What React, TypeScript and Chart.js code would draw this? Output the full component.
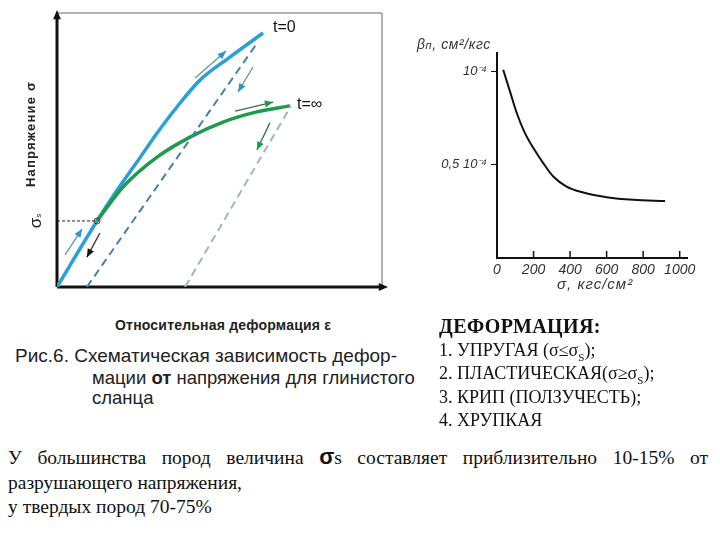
import React, { useEffect, useRef } from "react";
import { Chart, registerables } from "chart.js";
Chart.register(...registerables);

// ---- Left schematic chart (arbitrary units 0..100) ----
const loadT0X = [0, 12.3, 18.5, 24.6, 30.8, 36.9, 44.0, 53.2, 63.4];
const loadT0Y = [0, 24.1, 35.4, 45.6, 56.2, 65.7, 75.5, 83.9, 92.7];
const loadTInfX = [12.3, 20.3, 30.8, 40.9, 51.1, 61.5, 71.7];
const loadTInfY = [24.1, 36.5, 47.4, 54.7, 60.2, 63.9, 66.1];
const unloadT0X = [9.2, 61.8];
const unloadT0Y = [0, 89.4];
const unloadTInfX = [39.4, 72.0];
const unloadTInfY = [0, 66.1];
const sigmaSX = 12.3;
const sigmaSY = 24.1;
const arrowStartX = [2.5, 13.2, 42.5, 60.3, 54.8, 65.5];
const arrowStartY = [11.7, 19.7, 76.3, 80.3, 64.2, 59.9];
const arrowEndX = [7.7, 9.2, 52.0, 55.7, 66.5, 61.5];
const arrowEndY = [21.2, 10.9, 86.1, 71.2, 67.5, 50.0];
const arrowKind = ["blue", "black", "blue", "blue", "green", "green"];

// ---- Right chart ----
const stressValues = [34, 71, 108, 153, 199, 253, 308, 381, 472, 600, 746, 920];
const compressValues = [1.01, 0.894, 0.778, 0.67, 0.59, 0.509, 0.437, 0.383, 0.351, 0.326, 0.312, 0.306];
const xTickValues = [0, 200, 400, 600, 800, 1000];
const xTickLabels = ["0", "200", "400", "600", "800", "1000"];
const yTickValues = [0.5, 1];
const yTickLabels = ["0,5 10⁻⁴", "10⁻⁴"];

const zip = (xs: number[], ys: number[]) => xs.map((x, i) => ({ x, y: ys[i] }));

function arrowHead(ctx: CanvasRenderingContext2D, x0: number, y0: number, x1: number, y1: number, size: number, color: string) {
  const a = Math.atan2(y1 - y0, x1 - x0);
  ctx.save();
  ctx.fillStyle = color;
  ctx.beginPath();
  ctx.moveTo(x1, y1);
  ctx.lineTo(x1 - size * Math.cos(a - 0.4), y1 - size * Math.sin(a - 0.4));
  ctx.lineTo(x1 - size * Math.cos(a + 0.4), y1 - size * Math.sin(a + 0.4));
  ctx.closePath();
  ctx.fill();
  ctx.restore();
}

const kindShaft: Record<string, string> = { blue: "#5b9aa0", black: "#3a2a1a", green: "#3d6b52" };
const kindHead: Record<string, string> = { blue: "#2a95cf", black: "#111111", green: "#1e9a4a" };

function LeftChart() {
  const ref = useRef<HTMLCanvasElement>(null);
  useEffect(() => {
    if (!ref.current) return;
    const arrowSets = arrowKind.map((k, i) => ({
      label: "arrow" + i,
      data: [{ x: arrowStartX[i], y: arrowStartY[i] }, { x: arrowEndX[i], y: arrowEndY[i] }],
      borderColor: kindShaft[k],
      borderWidth: 1.3,
      pointRadius: 0,
      showLine: true,
      clip: false as any,
      arrowColor: kindHead[k],
    }));
    const frame = {
      id: "frame",
      beforeDatasetsDraw(chart: any) {
        const { ctx, chartArea: a } = chart;
        ctx.save();
        ctx.strokeStyle = "#666";
        ctx.lineWidth = 1;
        ctx.beginPath();
        ctx.moveTo(a.left, a.top);
        ctx.lineTo(a.right, a.top);
        ctx.lineTo(a.right, a.bottom);
        ctx.stroke();
        ctx.strokeStyle = "#111";
        ctx.lineWidth = 3;
        ctx.beginPath();
        ctx.moveTo(a.left, a.bottom);
        ctx.lineTo(a.left, a.top + 2);
        ctx.moveTo(a.left, a.bottom);
        ctx.lineTo(a.right + 2, a.bottom);
        ctx.stroke();
        ctx.restore();
        arrowHead(ctx, a.left, a.bottom, a.left, a.top - 3, 10, "#111");
        arrowHead(ctx, a.left, a.bottom, a.right + 6, a.bottom, 10, "#111");
      },
      afterDatasetsDraw(chart: any) {
        const { ctx } = chart;
        chart.data.datasets.forEach((ds: any, i: number) => {
          if (!ds.arrowColor) return;
          const pts = chart.getDatasetMeta(i).data;
          arrowHead(ctx, pts[0].x, pts[0].y, pts[1].x, pts[1].y, 9, ds.arrowColor);
        });
      },
    };
    const chart = new Chart(ref.current, {
      type: "scatter",
      data: {
        datasets: [
          {
            label: "sigmaS",
            data: [{ x: 0, y: sigmaSY }, { x: sigmaSX, y: sigmaSY }],
            borderColor: "#222",
            borderWidth: 1,
            borderDash: [3, 2],
            showLine: true,
            pointRadius: [0, 3],
            pointBackgroundColor: "rgba(0,0,0,0)",
            pointBorderColor: "#444",
            pointBorderWidth: 1,
          },
          {
            label: "unloadT0",
            data: zip(unloadT0X, unloadT0Y),
            borderColor: "#4582a4",
            borderWidth: 2,
            borderDash: [8, 5],
            showLine: true,
            pointRadius: 0,
          },
          {
            label: "unloadTInf",
            data: zip(unloadTInfX, unloadTInfY),
            borderColor: "#a6b6b6",
            borderWidth: 2,
            borderDash: [8, 5],
            showLine: true,
            pointRadius: 0,
          },
          {
            label: "t=∞",
            data: zip(loadTInfX, loadTInfY),
            borderColor: "#1f9a4a",
            borderWidth: 3.5,
            showLine: true,
            pointRadius: 0,
            cubicInterpolationMode: "monotone",
          },
          {
            label: "t=0",
            data: zip(loadT0X, loadT0Y),
            borderColor: "#2aa0d8",
            borderWidth: 3.5,
            showLine: true,
            pointRadius: 0,
            cubicInterpolationMode: "monotone",
          },
          ...arrowSets,
        ] as any,
      },
      options: {
        animation: false,
        responsive: true,
        maintainAspectRatio: false,
        layout: { padding: { left: 57, top: 13, right: 18, bottom: 13 } },
        plugins: { legend: { display: false }, tooltip: { enabled: false } },
        scales: {
          x: { type: "linear", min: 0, max: 100, display: false },
          y: { type: "linear", min: 0, max: 100, display: false },
        },
      },
      plugins: [frame],
    });
    return () => chart.destroy();
  }, []);
  return (
    <div style={{ position: "absolute", left: 0, top: 0, width: 400, height: 300 }}>
      <canvas ref={ref} />
    </div>
  );
}

function RightChart() {
  const ref = useRef<HTMLCanvasElement>(null);
  useEffect(() => {
    if (!ref.current) return;
    const upTicks = {
      id: "upTicks",
      afterDraw(chart: any) {
        const { ctx, chartArea: a } = chart;
        const xs = chart.scales.x;
        ctx.save();
        ctx.strokeStyle = "#111";
        ctx.lineWidth = 1.5;
        xTickValues.slice(1).forEach((v) => {
          const px = xs.getPixelForValue(v);
          ctx.beginPath();
          ctx.moveTo(px, a.bottom);
          ctx.lineTo(px, a.bottom - 7);
          ctx.stroke();
        });
        ctx.restore();
      },
    };
    const font = { family: "'Liberation Sans', Arial, sans-serif", size: 13, style: "italic" as const };
    const chart = new Chart(ref.current, {
      type: "line",
      data: {
        datasets: [
          {
            data: zip(stressValues, compressValues),
            borderColor: "#111",
            borderWidth: 2,
            pointRadius: 0,
            cubicInterpolationMode: "monotone",
          },
        ],
      },
      options: {
        animation: false,
        responsive: true,
        maintainAspectRatio: false,
        layout: { padding: { left: 0, top: 23, right: 33, bottom: 0 } },
        plugins: { legend: { display: false }, tooltip: { enabled: false } },
        scales: {
          x: {
            type: "linear",
            min: 0,
            max: 1040,
            afterBuildTicks: (s: any) => {
              s.ticks = xTickValues.map((v) => ({ value: v }));
            },
            afterFit: (s: any) => {
              s.height = 42;
            },
            grid: { display: true, drawOnChartArea: false, drawTicks: false },
            border: { display: true, color: "#111", width: 2 },
            ticks: {
              color: "#333",
              font: { ...font, size: 14 },
              padding: 4,
              maxRotation: 0,
              callback: (v: any) => {
                const i = xTickValues.indexOf(Number(v));
                return i >= 0 ? xTickLabels[i] : "";
              },
            },
          },
          y: {
            type: "linear",
            min: 0,
            max: 1.1,
            afterBuildTicks: (s: any) => {
              s.ticks = yTickValues.map((v) => ({ value: v }));
            },
            afterFit: (s: any) => {
              s.width = 97;
            },
            grid: { display: true, drawOnChartArea: false, drawTicks: true, tickLength: 6, tickColor: "#111" },
            border: { display: true, color: "#111", width: 2 },
            ticks: {
              color: "#333",
              font,
              padding: 4,
              callback: (v: any) => {
                const i = yTickValues.indexOf(Number(v));
                return i >= 0 ? yTickLabels[i] : "";
              },
            },
          },
        },
      },
      plugins: [upTicks],
    });
    return () => chart.destroy();
  }, []);
  return (
    <div style={{ position: "absolute", left: 400, top: 30, width: 320, height: 270 }}>
      <canvas ref={ref} />
    </div>
  );
}

const sans = "'Liberation Sans', Arial, sans-serif";
const serif = "'Liberation Serif', 'Times New Roman', serif";

function T(props: { x: number; cy: number; size: number; lh?: number; style?: React.CSSProperties; children: React.ReactNode }) {
  const lh = props.lh ?? props.size * 1.2;
  return (
    <div
      style={{
        position: "absolute",
        left: props.x,
        top: props.cy - lh / 2,
        fontSize: props.size,
        lineHeight: lh + "px",
        whiteSpace: "nowrap",
        color: "#111",
        ...props.style,
      }}
    >
      {props.children}
    </div>
  );
}

export default function App() {
  return (
    <div style={{ position: "absolute", left: 0, top: 0, width: 720, height: 540, background: "#fff", overflow: "hidden" }}>
      <LeftChart />
      <RightChart />
      {/* left chart labels */}
      <T x={273} cy={27} size={16} style={{ fontFamily: sans }}>t=0</T>
      <T x={297} cy={104} size={16} style={{ fontFamily: sans }}>t=∞</T>
      <div
        style={{
          position: "absolute",
          left: 30,
          top: 134,
          transform: "translate(-50%, -50%) rotate(-90deg)",
          fontFamily: sans,
          fontSize: 13,
          fontWeight: "bold",
          letterSpacing: 1.2,
          whiteSpace: "nowrap",
          color: "#222",
        }}
      >
        Напряжение σ
      </div>
      <div
        style={{
          position: "absolute",
          left: 36,
          top: 221,
          transform: "translate(-50%, -50%) rotate(-90deg)",
          fontFamily: sans,
          fontSize: 17,
          whiteSpace: "nowrap",
          color: "#222",
        }}
      >
        σ<span style={{ fontSize: 8 }}>s</span>
      </div>
      <T x={115} cy={325} size={14} style={{ fontFamily: sans, fontWeight: "bold", letterSpacing: 0.2, color: "#222" }}>
        Относительная деформация ε
      </T>
      <T x={15} cy={355} size={19} lh={21} style={{ fontFamily: sans, color: "#222" }}>Рис.6. Схематическая зависимость дефор-</T>
      <T x={92} cy={377} size={18.5} lh={21} style={{ fontFamily: sans, color: "#222" }}>мации <b>от</b> напряжения для глинистого</T>
      <T x={92} cy={397} size={18.5} lh={21} style={{ fontFamily: sans, color: "#222" }}>сланца</T>
      {/* right chart labels */}
      <T x={417} cy={44} size={14} style={{ fontFamily: sans, fontStyle: "italic", color: "#333", letterSpacing: 0.6 }}>
        β<span style={{ fontSize: 11 }}>п</span>, см²/кгс
      </T>
      <T x={557} cy={284} size={15} style={{ fontFamily: sans, fontStyle: "italic", color: "#333", letterSpacing: 1 }}>
        σ, кгс/см²
      </T>
      {/* deformation list */}
      <T x={439} cy={326} size={20} style={{ fontFamily: serif, fontWeight: "bold", letterSpacing: 0.4 }}>ДЕФОРМАЦИЯ:</T>
      <T x={439} cy={351} size={18} style={{ fontFamily: serif }}>1. УПРУГАЯ (σ≤σ<sub style={{ fontSize: 11 }}>S</sub>);</T>
      <T x={439} cy={374} size={18} style={{ fontFamily: serif }}>2. ПЛАСТИЧЕСКАЯ(σ≥σ<sub style={{ fontSize: 11 }}>S</sub>);</T>
      <T x={439} cy={398} size={18} style={{ fontFamily: serif }}>3. КРИП (ПОЛЗУЧЕСТЬ);</T>
      <T x={439} cy={421} size={18} style={{ fontFamily: serif }}>4. ХРУПКАЯ</T>
      {/* paragraph */}
      <div
        style={{
          position: "absolute",
          left: 8,
          top: 444,
          width: 700,
          fontFamily: serif,
          fontSize: 19.5,
          lineHeight: "25px",
          textAlign: "justify",
          textAlignLast: "justify" as any,
          color: "#111",
          whiteSpace: "nowrap",
        }}
      >
        У большинства пород величина <span style={{ fontFamily: sans, fontWeight: "bold", fontSize: 22 }}>σ</span>s составляет приблизительно 10-15% от
      </div>
      <T x={8} cy={482} size={19.5} lh={25} style={{ fontFamily: serif }}>разрушающего напряжения,</T>
      <T x={8} cy={506} size={19.5} lh={25} style={{ fontFamily: serif }}>у твердых пород 70-75%</T>
    </div>
  );
}
